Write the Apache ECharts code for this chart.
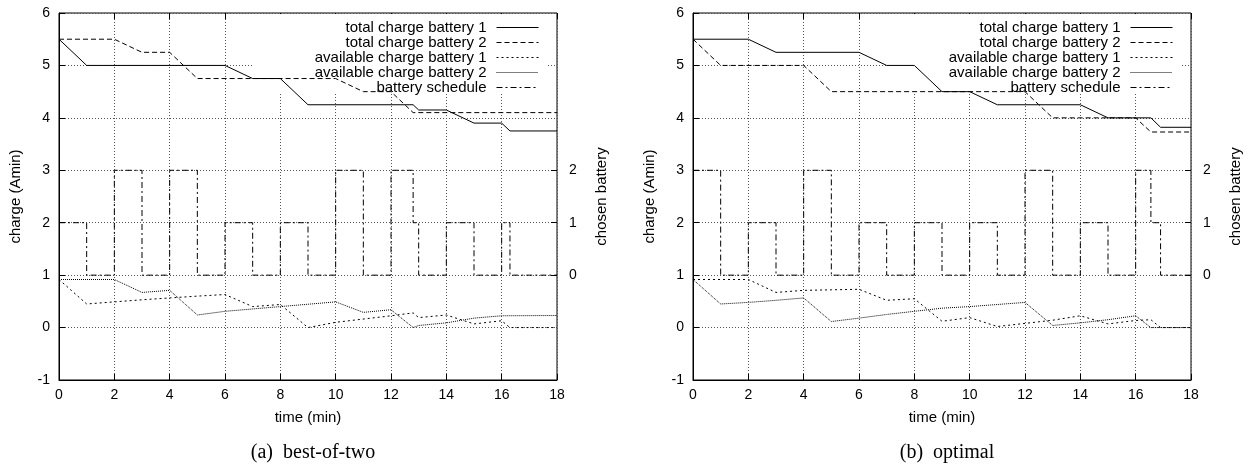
<!DOCTYPE html>
<html>
<head>
<meta charset="utf-8">
<script src="https://cdn.jsdelivr.net/npm/echarts@6/dist/echarts.min.js"></script>
<style>
html, body { margin: 0; padding: 0; background: #fff; }
#main { width: 1246px; height: 464px; }
</style>
</head>
<body>
<div id="main"></div>
<script>
// (a) best-of-two : [time (min), charge (Amin)]
var bestTotal1 = [[0,5.5],[1,5.0],[6,5.0],[7,4.75],[8,4.75],[9,4.25],[12.8,4.25],[13,4.15],[14,4.15],[15,3.9],[16,3.9],[16.3,3.75],[18,3.75]];
var bestTotal2 = [[0,5.5],[2,5.5],[3,5.25],[4,5.25],[5,4.75],[10,4.75],[11,4.5],[12,4.5],[12.8,4.1],[18,4.1]];
var bestAvail1 = [[0,0.917],[1,0.45],[2,0.49],[3,0.53],[4,0.565],[5,0.6],[6,0.63],[7,0.40],[8,0.44],[9,0.0],[10,0.10],[12,0.225],[12.8,0.28],[13,0.19],[14,0.24],[15,0.07],[16,0.13],[16.3,0.0],[18,0.0]];
var bestAvail2 = [[0,0.917],[2,0.917],[3,0.67],[4,0.71],[5,0.24],[6,0.31],[8,0.40],[10,0.49],[11,0.29],[12,0.34],[12.8,0.0],[13,0.04],[14,0.09],[15,0.18],[16,0.225],[18,0.23]];
// chosen battery (0 = idle)
var bestSchedT = [0,1,2,3,4,5,6,7,8,9,10,11,12,12.8,13,14,15,16,16.3,18];
var bestSchedV = [1,0,2,0,2,0,1,0,1,0,2,0,2,1,0,1,0,1,0,0];

// (b) optimal
var optTotal1 = [[0,5.5],[2,5.5],[3,5.25],[6,5.25],[7,5.0],[8,5.0],[9,4.5],[10,4.5],[11,4.25],[14,4.25],[15,4.0],[16.55,4.0],[16.9,3.82],[18,3.82]];
var optTotal2 = [[0,5.5],[1,5.0],[4,5.0],[5,4.5],[12,4.5],[13,4.0],[16,4.0],[16.55,3.73],[18,3.73]];
var optAvail1 = [[0,0.917],[2,0.917],[3,0.67],[4,0.71],[5,0.72],[6,0.73],[7,0.52],[8,0.55],[9,0.12],[10,0.19],[11,0.02],[12,0.08],[13,0.14],[14,0.225],[15,0.07],[16,0.135],[16.55,0.15],[16.9,0.0],[18,0.0]];
var optAvail2 = [[0,0.917],[1,0.45],[2,0.48],[3,0.52],[4,0.565],[5,0.115],[6,0.18],[7,0.25],[8,0.31],[9,0.37],[10,0.40],[12,0.48],[13,0.04],[14,0.09],[15,0.15],[16,0.225],[16.55,0.0],[18,0.0]];
var optSchedT = [0,1,2,3,4,5,6,7,8,9,10,11,12,13,14,15,16,16.55,16.9,18];
var optSchedV = [2,0,1,0,2,0,1,0,1,0,1,0,2,0,1,0,2,1,0,0];

var names = ['total charge battery 1','total charge battery 2','available charge battery 1','available charge battery 2','battery schedule'];
var captions = ['(a)  best-of-two', '(b)  optimal'];

var FONT = '"Liberation Sans", Helvetica, Arial, sans-serif';
var dashes = ['solid', [5,3], [2,3], [1,1], [6,3,2,3]];

var myChart = echarts.init(document.getElementById('main'));

var grids = [
    {left: 59, top: 13, width: 498, height: 367},
    {left: 693, top: 13, width: 498, height: 367}
];

var xAxes = [], yAxes = [], series = [], legends = [], titles = [], graphics = [];

grids.forEach(function (g, i) {
    g.show = true;
    g.borderColor = '#000';
    g.borderWidth = 1;

    xAxes.push({
        type: 'value', gridIndex: i, min: 0, max: 18, interval: 2,
        name: 'time (min)', nameLocation: 'middle', nameGap: 30,
        nameTextStyle: {fontFamily: FONT, fontSize: 15, color: '#000'},
        axisLine: {show: true, onZero: false, lineStyle: {color: '#000'}},
        axisTick: {inside: true, length: 6, lineStyle: {color: '#000'}},
        axisLabel: {fontFamily: FONT, fontSize: 14, color: '#000', margin: 8},
        splitLine: {show: true, lineStyle: {color: '#555', type: [1,2]}}
    });
    // mirrored ticks on top border
    xAxes.push({
        type: 'value', gridIndex: i, position: 'top', min: 0, max: 18, interval: 2,
        axisLine: {show: false, onZero: false},
        axisTick: {inside: true, length: 6, lineStyle: {color: '#000'}},
        axisLabel: {show: false},
        splitLine: {show: false}
    });
    yAxes.push({
        type: 'value', gridIndex: i, min: -1, max: 6, interval: 1,
        name: 'charge (Amin)', nameLocation: 'middle', nameGap: 36, nameRotate: 90,
        nameTextStyle: {fontFamily: FONT, fontSize: 15, color: '#000'},
        axisLine: {show: true, onZero: false, lineStyle: {color: '#000'}},
        axisTick: {inside: true, length: 6, lineStyle: {color: '#000'}},
        axisLabel: {fontFamily: FONT, fontSize: 14, color: '#000', margin: 9},
        splitLine: {show: true, lineStyle: {color: '#555', type: [1,2]}}
    });
    yAxes.push({
        type: 'value', gridIndex: i, position: 'right', min: -2, max: 5, interval: 1,
        name: 'chosen battery', nameLocation: 'middle', nameGap: 37, nameRotate: 90,
        nameTextStyle: {fontFamily: FONT, fontSize: 15, color: '#000'},
        axisLine: {show: false, onZero: false},
        axisTick: {inside: true, length: 6, customValues: [0,1,2], lineStyle: {color: '#000'}},
        axisLabel: {fontFamily: FONT, fontSize: 14, color: '#000', margin: 12, customValues: [0,1,2]},
        splitLine: {show: false}
    });

    // key: right aligned text, sample on the right
    names.forEach(function (n, k) {
        legends.push({
            data: [n], orient: 'vertical', align: 'right', icon: 'inherit',
            right: i === 0 ? 707 : 73, top: 20 + k * 15,
            padding: 0, itemWidth: 42, itemHeight: 10, selectedMode: false,
            textStyle: {fontFamily: FONT, fontSize: 15, color: '#000', padding: [0, 5, 0, 0]},
            itemStyle: {color: 'transparent', borderWidth: 0},
            lineStyle: {width: 1}
        });
    });

    // blank box behind the key hides the grid, like gnuplot
    graphics.push({
        type: 'rect', z: 1, silent: true,
        shape: {x: g.left + 194, y: 14, width: 295, height: 79},
        style: {fill: '#fff'}
    });

    titles.push({
        text: captions[i], left: g.left + g.width / 2, top: 438, textAlign: 'center',
        textStyle: {fontFamily: '"Liberation Serif", "Times New Roman", serif', fontSize: 20, fontWeight: 'normal', color: '#000'}
    });
});

function lineSeries(name, data, xi, yi, k) {
    return {
        name: name, type: 'line', xAxisIndex: xi, yAxisIndex: yi, data: data,
        symbol: 'none', animation: false, z: 2,
        lineStyle: {color: '#000', width: 1, type: dashes[k]},
        itemStyle: {color: '#000'}
    };
}

var sets = [
    [bestTotal1, bestTotal2, bestAvail1, bestAvail2, bestSchedT, bestSchedV],
    [optTotal1, optTotal2, optAvail1, optAvail2, optSchedT, optSchedV]
];
sets.forEach(function (s, i) {
    for (var k = 0; k < 4; k++) {
        series.push(lineSeries(names[k], s[k], i * 2, i * 2, k));
    }
    var sched = lineSeries(names[4], s[4].map(function (t, j) { return [t, s[5][j]]; }), i * 2, i * 2 + 1, 4);
    sched.step = 'end';
    series.push(sched);
});

var option = {
    backgroundColor: '#fff',
    animation: false,
    title: titles,
    grid: grids,
    xAxis: xAxes,
    yAxis: yAxes,
    legend: legends,
    graphic: graphics,
    series: series
};

myChart.setOption(option);
</script>
</body>
</html>
